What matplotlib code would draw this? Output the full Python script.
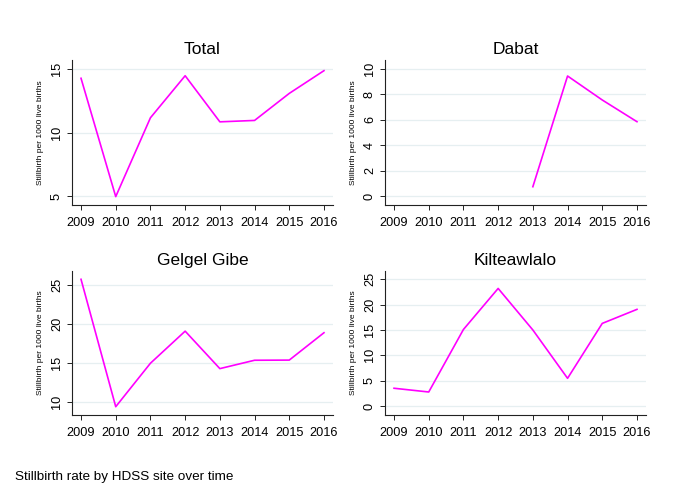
import numpy as np
import matplotlib
matplotlib.use("Agg")
import matplotlib.pyplot as plt

plt.rcParams['font.family'] = ['Liberation Sans', 'DejaVu Sans']

years = [2009, 2010, 2011, 2012, 2013, 2014, 2015, 2016]
total = [14.27, 4.95, 11.16, 14.47, 10.84, 10.95, 13.08, 14.87]
dabat = [np.nan, np.nan, np.nan, np.nan, 0.73, 9.45, 7.56, 5.85]
gelgel = [25.73, 9.44, 15.0, 19.1, 14.31, 15.38, 15.4, 18.9]
kilte = [3.5, 2.76, 15.1, 23.2, 15.0, 5.46, 16.3, 19.07]

titles = ["Total", "Dabat", "Gelgel Gibe", "Kilteawlalo"]
series = [total, dabat, gelgel, kilte]
yticks = [[5, 10, 15], [0, 2, 4, 6, 8, 10], [10, 15, 20, 25], [0, 5, 10, 15, 20, 25]]
ylims = [(4.29, 15.71), (-0.71, 10.71), (8.38, 26.83), (-1.78, 26.7)]

W, H = 685, 499
# pixel boxes: left, top, right, bottom
boxes = [(72, 60, 333, 205), (385, 60, 646, 205),
         (72, 270.7, 333, 415), (385, 270.7, 646, 415)]

fig = plt.figure(figsize=(W / 100, H / 100), dpi=100)
fig.patch.set_facecolor("white")

for title, vals, yt, yl, (l, t, r, b) in zip(titles, series, yticks, ylims, boxes):
    ax = fig.add_axes([l / W, 1 - b / H, (r - l) / W, (b - t) / H])
    ax.plot(years, vals, color="#ff00ff", lw=1.2)
    ax.set_xlim(2008.74, 2016.26)
    ax.set_ylim(*yl)
    ax.set_xticks(years)
    ax.set_yticks(yt)
    ax.grid(axis="y", color="#e6eff1", lw=0.9)
    ax.set_axisbelow(True)
    for s in ["top", "right"]:
        ax.spines[s].set_visible(False)
    for s in ["left", "bottom"]:
        ax.spines[s].set_linewidth(0.8)
        ax.spines[s].set_color("#222222")
    ax.tick_params(axis="both", length=3.5, width=0.7, color="#222222", labelsize=9.2, pad=3)
    ax.tick_params(axis="x", pad=5)
    for lab in ax.get_yticklabels():
        lab.set_rotation(90)
        lab.set_va("center")
    ax.set_ylabel("Stillbirth per 1000 live births", fontsize=6.0)
    ax.yaxis.set_label_coords(-0.108, 0.5)
    ax.set_title(title, fontsize=12.5, pad=4)

fig.text(15 / W, 1 - 477 / H, "Stillbirth rate by HDSS site over time", fontsize=9.7, va="center", ha="left")

fig.savefig("out.png", dpi=100)
